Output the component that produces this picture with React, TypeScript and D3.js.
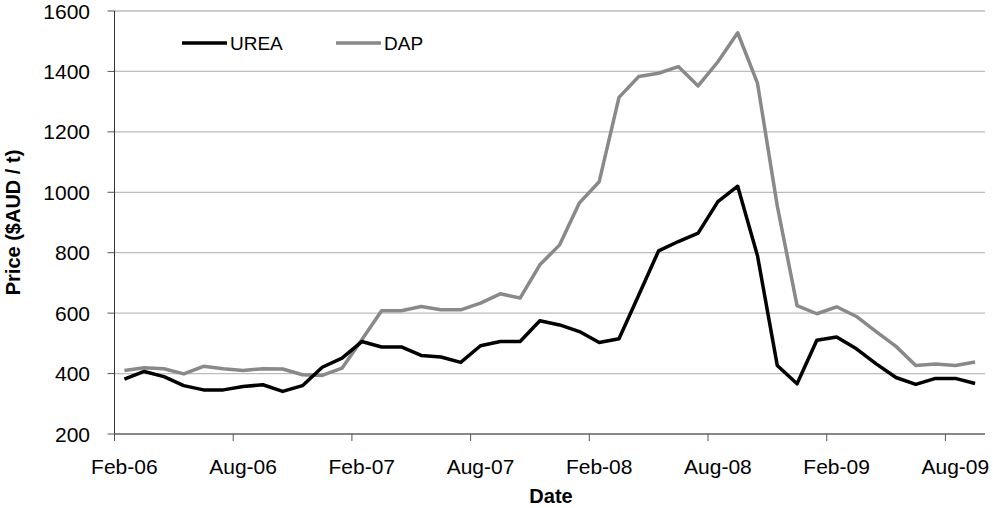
import React from "react";
import * as d3 from "d3";

const months: string[] = [
  "Feb-06","Mar-06","Apr-06","May-06","Jun-06","Jul-06","Aug-06","Sep-06","Oct-06","Nov-06","Dec-06","Jan-07",
  "Feb-07","Mar-07","Apr-07","May-07","Jun-07","Jul-07","Aug-07","Sep-07","Oct-07","Nov-07","Dec-07","Jan-08",
  "Feb-08","Mar-08","Apr-08","May-08","Jun-08","Jul-08","Aug-08","Sep-08","Oct-08","Nov-08","Dec-08","Jan-09",
  "Feb-09","Mar-09","Apr-09","May-09","Jun-09","Jul-09","Aug-09","Sep-09"
];

const urea: number[] = [
  382, 407, 390, 360, 346, 346, 357, 363, 341, 360, 421, 451,
  506, 488, 488, 460, 455, 437, 492, 506, 506, 575, 561, 539,
  503, 515, 660, 806, 837, 865, 969, 1020, 790, 427, 366, 510,
  521, 482, 432, 387, 364, 384, 384, 367
];

const dap: number[] = [
  410, 419, 416, 399, 424, 416, 410, 416, 415, 396, 394, 418,
  512, 608, 608, 622, 611, 611, 633, 664, 650, 760, 826, 965,
  1035, 1314, 1383, 1394, 1416, 1352, 1432, 1528, 1361, 955, 625, 598,
  621, 589, 539, 490, 427, 432, 427, 438
];

const yTicks: number[] = [200, 400, 600, 800, 1000, 1200, 1400, 1600];
const xTickLabels: string[] = ["Feb-06","Aug-06","Feb-07","Aug-07","Feb-08","Aug-08","Feb-09","Aug-09"];

const W = 993, H = 508;
const left = 114.5, right = 985, top = 11, bottom = 434;
const font = "Arial, 'Liberation Sans', sans-serif";

export default function App() {
  const x = d3.scaleBand<string>().domain(months).range([left, right]).paddingInner(0).paddingOuter(0);
  const y = d3.scaleLinear().domain([200, 1600]).range([bottom, top]);
  const cx = (i: number) => (x(months[i]) as number) + x.bandwidth() / 2;
  const line = d3.line<number>().x((_, i) => cx(i)).y((d) => y(d));

  return (
    <svg width={W} height={H} style={{ position: "absolute", left: 0, top: 0, background: "#fff" }}>
      <rect x={0} y={0} width={W} height={H} fill="#fff" />
      {yTicks.map((t) => (
        <g key={t}>
          {t > 200 && <line x1={left} x2={right} y1={y(t)} y2={y(t)} stroke="#bdbdbd" strokeWidth={1.3} />}
          <line x1={left - 7} x2={left} y1={y(t)} y2={y(t)} stroke="#555" strokeWidth={1} />
          <text x={90} y={y(t)} dy="0.36em" textAnchor="end" fontFamily={font} fontSize={21} fill="#000">{t}</text>
        </g>
      ))}
      <line x1={left} x2={left} y1={top} y2={bottom} stroke="#333" strokeWidth={1} />
      <line x1={left} x2={right} y1={bottom} y2={bottom} stroke="#888" strokeWidth={2} />
      {xTickLabels.map((lab) => {
        const xi = x(lab) as number;
        const c = xi + x.bandwidth() / 2;
        return (
          <g key={lab}>
            <line x1={xi} x2={xi} y1={bottom} y2={bottom + 7} stroke="#555" strokeWidth={1} />
            <text x={c} y={474} textAnchor="middle" fontFamily={font} fontSize={21} fill="#000">{lab}</text>
          </g>
        );
      })}
      <path d={line(dap) || ""} fill="none" stroke="#898989" strokeWidth={3.5} strokeLinejoin="round" />
      <path d={line(urea) || ""} fill="none" stroke="#000" strokeWidth={3.5} strokeLinejoin="round" />
      <line x1={182} x2={227} y1={43} y2={43} stroke="#000" strokeWidth={3.5} />
      <text x={230} y={43} dy="0.36em" fontFamily={font} fontSize={19} fill="#000">UREA</text>
      <line x1={336} x2={381} y1={43} y2={43} stroke="#898989" strokeWidth={3.5} />
      <text x={384} y={43} dy="0.36em" fontFamily={font} fontSize={19} fill="#000">DAP</text>
      <text x={551} y={503} textAnchor="middle" fontFamily={font} fontSize={20} fontWeight="bold" fill="#000">Date</text>
      <text transform={`translate(20,${(top + bottom) / 2}) rotate(-90)`} textAnchor="middle" fontFamily={font} fontSize={20} fontWeight="bold" fill="#000">Price ($AUD / t)</text>
    </svg>
  );
}
